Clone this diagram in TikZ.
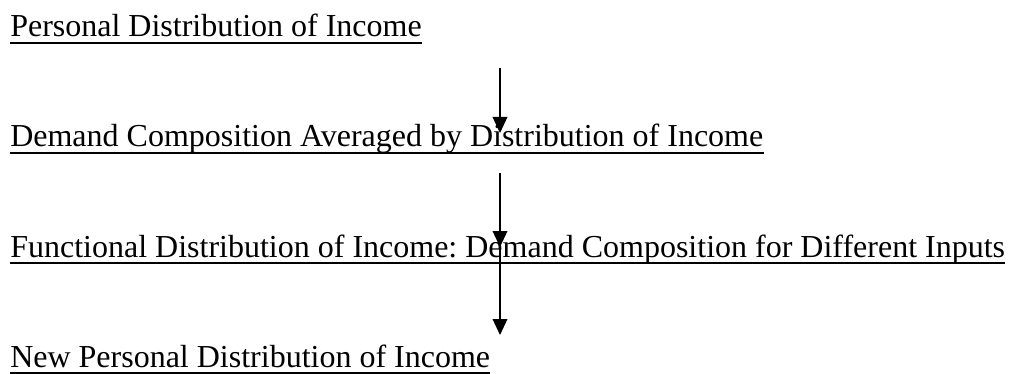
\documentclass[tikz,border=0pt]{standalone}
\usepackage{fontspec}
\setmainfont{Liberation Serif}
\usetikzlibrary{arrows.meta}
\frenchspacing

\begin{document}
\begin{tikzpicture}[
        x=0.75pt, y=-0.75pt,
        stage/.style={anchor=base west, inner sep=0pt, font=\fontsize{24}{28}\selectfont},
        uline/.style={line width=1.3pt},
        arrow/.style={-{Triangle[width=11pt,length=12pt]}, line width=1pt}
    ]
        \useasboundingbox (0,0) rectangle (1010,374);

        \node[stage] (personal) at (10,37) {Personal Distribution of Income};
        \node[stage] (demand) at (10,147) {Demand Composition Averaged by Distribution of Income};
        \node[stage] (functional) at (10,257) {Functional Distribution of Income: Demand Composition for Different Inputs};
        \node[stage] (newpersonal) at (10,367) {New Personal Distribution of Income};

        % underlines
        \foreach \n in {personal, demand, functional, newpersonal}
            \draw[uline] ([yshift=-4.4pt]\n.base west) -- ([yshift=-4.4pt]\n.base east);

        % arrow ends
        \coordinate (top1) at (500,68);
        \coordinate (tip1) at (500,133);
        \coordinate (top2) at (500,173);
        \coordinate (tip2) at (500,247);
        \coordinate (tip3) at (500,335);

        \draw[arrow] (top1) -- (tip1);
        \draw[arrow] (top2) -- (tip2);
        \draw[arrow] (tip2) -- (tip3);
    \end{tikzpicture}
\end{document}
